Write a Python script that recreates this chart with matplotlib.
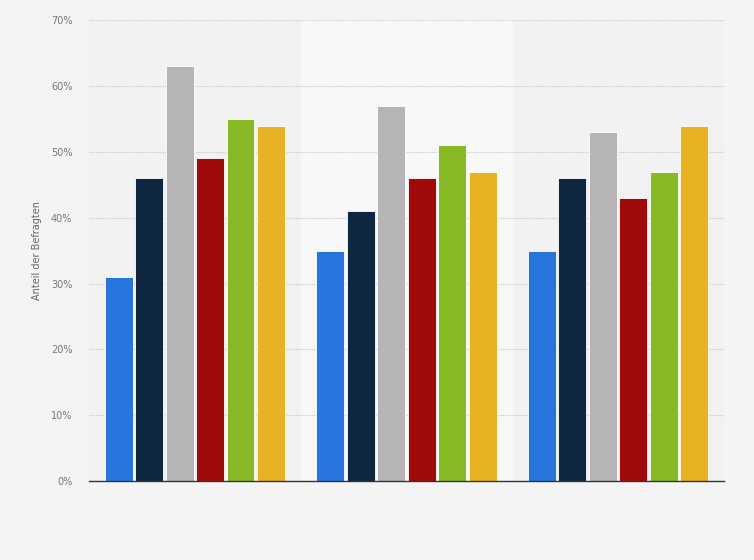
import matplotlib
matplotlib.use("Agg")
import matplotlib.pyplot as plt
import numpy as np

groups = ["A", "B", "C"]
series_colors = ["#2876dd", "#0f2641", "#b5b5b5", "#a10a0a", "#87b925", "#e8b223"]
values = [
    [31, 35, 35],
    [46, 41, 46],
    [63, 57, 53],
    [49, 46, 43],
    [55, 51, 47],
    [54, 47, 54],
]
yticks = [0, 10, 20, 30, 40, 50, 60, 70]
ytick_labels = ["0%", "10%", "20%", "30%", "40%", "50%", "60%", "70%"]

fig = plt.figure(figsize=(7.54, 5.6), dpi=100, facecolor="#f4f4f4")
ax = fig.add_axes([0.118, 0.141, 0.842, 0.823])
ax.set_facecolor("#f2f2f2")

x = np.arange(len(groups))
ax.axvspan(0.5, 1.5, color="#f8f8f8", zorder=0)

step = 0.144
width = 0.132
n = len(values)
for i, (vals, col) in enumerate(zip(values, series_colors)):
    offs = (i - (n - 1) / 2) * step
    ax.bar(x + offs, vals, width=width, color=col, edgecolor="#ffffff",
           linewidth=0.6, zorder=3)

ax.set_xlim(-0.5, 2.5)
ax.set_ylim(0, 70)
ax.set_yticks(yticks)
ax.set_yticklabels(ytick_labels, color="#777777", fontsize=7)
ax.set_xticks([])
ax.tick_params(axis="y", length=0, pad=12)
ax.grid(axis="y", color="#c8c8c8", linestyle=(0, (1, 1)), linewidth=0.8, zorder=1)
for s in ["top", "right", "left"]:
    ax.spines[s].set_visible(False)
ax.spines["bottom"].set_color("#333333")
ax.spines["bottom"].set_linewidth(1.0)
ax.spines["bottom"].set_zorder(4)
ax.set_ylabel("Anteil der Befragten", color="#666666", fontsize=7, labelpad=6)

fig.savefig("out.png", dpi=100, facecolor=fig.get_facecolor())
